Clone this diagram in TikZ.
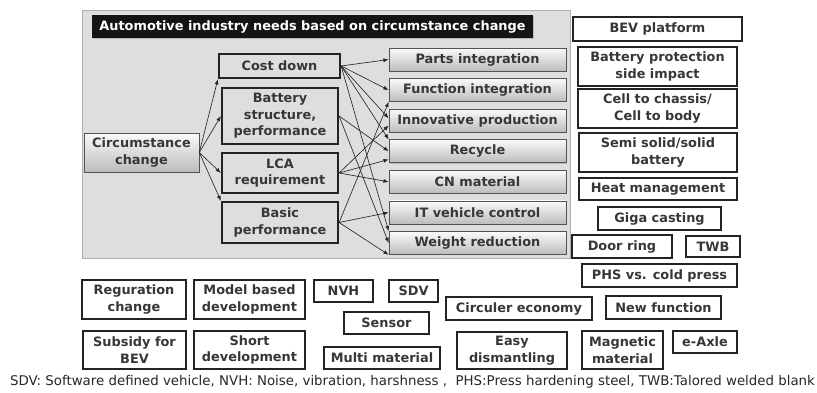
\documentclass[tikz,border=0pt]{standalone}
\usepackage{fontspec}
\setmainfont{DejaVu Sans}
\usepackage{tikz}
\usetikzlibrary{arrows.meta, positioning, shadows}
\usepackage{xcolor}
\definecolor{panelgray}{RGB}{222, 222, 222}
\definecolor{panelline}{RGB}{175, 175, 175}
\definecolor{boxtext}{RGB}{55, 55, 55}
\definecolor{boxline}{RGB}{35, 35, 35}
\definecolor{shadegray}{RGB}{188, 188, 188}

\begin{document}
\begin{tikzpicture}[x=0.03cm, y=-0.03cm, >={Latex[length=4.5pt, width=3.4pt]}]
    % Define styles
    \tikzstyle{base} = [font=\fontsize{11}{14}\selectfont\bfseries, text=boxtext, align=center, inner sep=1pt]
    \tikzstyle{shaded} = [base, rectangle, draw=gray!65!black, line width=0.5pt, top color=gray!4, bottom color=shadegray, drop shadow={shadow xshift=0.7pt, shadow yshift=-0.7pt, opacity=0.4}]
    \tikzstyle{need} = [shaded, minimum width=5.31cm, minimum height=0.69cm]
    \tikzstyle{driver} = [base, rectangle, draw=boxline, line width=1.9pt, fill=panelgray, minimum width=3.48cm]
    \tikzstyle{item} = [base, rectangle, draw=boxline, line width=1.3pt, fill=white]
    \tikzstyle{link} = [->, line width=0.55pt, black!85]

    \useasboundingbox (0,0) rectangle (817,392);

    % Gray panel and its heading
    \draw[draw=panelline, fill=panelgray, line width=0.8pt] (82,10) rectangle (570,258);
    \node[base, fill=black!92, text=white, minimum width=13.23cm, minimum height=0.69cm, drop shadow={shadow xshift=0.8pt, shadow yshift=-0.8pt, opacity=0.4}] (title) at (312.5,26.5) {Automotive industry needs based on circumstance change};

    % Nodes
    \node[shaded, minimum width=3.45cm, minimum height=1.17cm] (circ) at (141.5,152.5) {Circumstance\\change};

    \node[driver, minimum width=3.63cm, minimum height=0.72cm] (cost) at (279.5,66) {Cost down};
    \node[driver, minimum height=1.68cm] (battery) at (280,116) {Battery\\structure,\\performance};
    \node[driver, minimum height=1.2cm] (lca) at (280,173) {LCA\\requirement};
    \node[driver, minimum height=1.23cm] (basic) at (280,222.5) {Basic\\performance};

    \node[need] (parts) at (477.5,59.5) {Parts integration};
    \node[need, below=2.1mm of parts] (function) {Function integration};
    \node[need, below=2.1mm of function] (innovative) {Innovative production};
    \node[need, below=2.1mm of innovative] (recycle) {Recycle};
    \node[need, below=2.1mm of recycle] (cnmat) {CN material};
    \node[need, below=2.1mm of cnmat] (itctrl) {IT vehicle control};
    \node[need, below=2.1mm of itctrl] (weight) {Weight reduction};

    % Right column
    \node[item, minimum width=5.07cm, minimum height=0.72cm] (bev) at (657.5,29) {BEV platform};
    \node[item, minimum width=4.77cm, minimum height=1.17cm] (protect) at (657.5,66.5) {Battery protection\\side impact};
    \node[item, minimum width=4.77cm, minimum height=1.17cm] (ctc) at (657.5,108.5) {Cell to chassis/\\Cell to body};
    \node[item, minimum width=4.74cm, minimum height=1.17cm] (solid) at (658,152.5) {Semi solid/solid\\battery};
    \node[item, minimum width=4.74cm, minimum height=0.66cm] (heat) at (658,189) {Heat management};
    \node[item, minimum width=3.69cm, minimum height=0.69cm] (giga) at (659.5,218.5) {Giga casting};
    \node[item, minimum width=3.0cm, minimum height=0.69cm] (door) at (622,246.5) {Door ring};
    \node[item, minimum width=1.62cm, minimum height=0.63cm] (twb) at (713,246.5) {TWB};
    \node[item, minimum width=4.65cm, minimum height=0.69cm] (phs) at (659.5,275.5) {PHS vs. cold press};

    % Bottom rows
    \node[item, minimum width=3.12cm, minimum height=1.17cm] (regulation) at (134,299.5) {Reguration\\change};
    \node[item, minimum width=3.33cm, minimum height=1.17cm] (mbd) at (249.5,299.5) {Model based\\development};
    \node[item, minimum width=3.09cm, minimum height=1.14cm] (subsidy) at (134.5,350) {Subsidy for\\BEV};
    \node[item, minimum width=3.33cm, minimum height=1.14cm] (shortdev) at (249.5,350) {Short\\development};
    \node[item, minimum width=1.77cm, minimum height=0.66cm] (nvh) at (343.5,291) {NVH};
    \node[item, minimum width=1.47cm, minimum height=0.66cm] (sdv) at (413.5,291) {SDV};
    \node[item, minimum width=2.55cm, minimum height=0.66cm] (sensor) at (386.5,323) {Sensor};
    \node[item, minimum width=3.48cm, minimum height=0.66cm] (multi) at (382,358) {Multi material};
    \node[item, minimum width=4.38cm, minimum height=0.69cm] (circular) at (519,308.5) {Circuler economy};
    \node[item, minimum width=3.3cm, minimum height=1.11cm] (easy) at (512,350.5) {Easy\\dismantling};
    \node[item, minimum width=3.45cm, minimum height=0.69cm] (newfunc) at (663.5,307.5) {New function};
    \node[item, minimum width=2.43cm, minimum height=1.14cm] (magnet) at (622.5,350) {Magnetic\\material};
    \node[item, minimum width=1.92cm, minimum height=0.66cm] (eaxle) at (705,342) {e-Axle};

    \node[font=\fontsize{11.4}{13}\selectfont, text=black!85, inner sep=0pt] (legend) at (412.5,382) {SDV: Software defined vehicle, NVH: Noise, vibration, harshness ,\ \ PHS:Press hardening steel, TWB:Talored welded blank};

    % Arrows
    \draw[link] (circ.east) -- (cost.south west);
    \draw[link] (circ.east) -- (battery.west);
    \draw[link] (circ.east) -- (lca.west);
    \draw[link] (circ.east) -- (basic.north west);

    \draw[link] (cost.east) -- (parts.west);
    \draw[link] (cost.east) -- (function.west);
    \draw[link] (cost.east) -- ([yshift=2pt]innovative.west);
    \draw[link] (cost.east) -- (recycle.north west);
    \draw[link] (cost.east) -- (weight.north west);

    \draw[link] (battery.east) -- (recycle.west);
    \draw[link] (battery.east) -- (weight.west);

    \draw[link] (lca.east) -- ([yshift=-4pt]innovative.west);
    \draw[link] (lca.east) -- ([yshift=-7pt]recycle.west);
    \draw[link] (lca.east) -- (cnmat.west);

    \draw[link] (basic.east) -- (function.south west);
    \draw[link] (basic.east) -- (itctrl.west);
    \draw[link] (basic.east) -- (weight.south west);
\end{tikzpicture}
\end{document}
